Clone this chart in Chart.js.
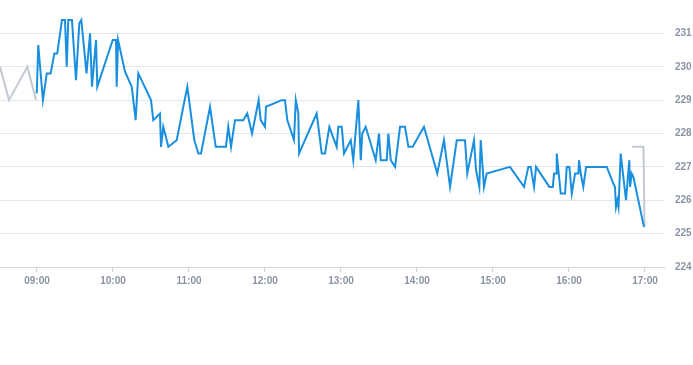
<!DOCTYPE html>
<html>
<head>
<meta charset="utf-8">
<script src="https://cdn.jsdelivr.net/npm/chart.js@4/dist/chart.umd.min.js"></script>
<style>
  html, body { margin: 0; padding: 0; background: #ffffff; }
  #wrap { width: 693px; height: 365px; position: relative; }
</style>
</head>
<body>
<div id="wrap"><canvas id="c"></canvas></div>
<script>
// Times are minutes since midnight
const priceTimes = [
  539.8, 541.0, 544.7, 547.7, 550.8, 553.7, 556.0, 559.7, 562.1, 563.5,
  564.7, 567.6, 570.8, 573.4, 575.0, 579.1, 581.9, 583.4, 586.6, 587.6,
  599.8, 602.4, 602.9, 604.0, 609.5, 614.8, 617.9, 620.0, 630.0, 631.8,
  637.1, 637.9, 639.7, 643.7, 650.3, 655.5, 658.7, 664.2, 667.4, 669.5,
  676.6, 681.1, 689.2, 691.0, 693.2, 696.3, 702.9, 706.0, 709.8, 715.0,
  716.6, 720.0, 720.8, 733.2, 735.8, 737.6, 742.9, 744.3, 746.3, 746.9,
  760.8, 764.8, 767.4, 770.8, 776.6, 777.9, 780.6, 782.4, 787.7, 789.7,
  793.7, 795.6, 796.8, 799.5, 807.4, 810.0, 811.4, 816.1, 817.4, 819.3,
  822.7, 826.6, 830.5, 833.2, 836.6, 845.5, 856.0, 861.3, 866.1, 871.4,
  877.9, 879.7, 885.0, 886.6, 889.2, 890.3, 892.9, 895.0, 913.4, 924.5,
  927.9, 929.8, 932.4, 934.0, 944.5, 947.2, 948.2, 949.8, 950.3, 953.5,
  956.9, 958.2, 960.3, 962.2, 964.8, 967.4, 967.9, 969.3, 971.3, 973.5,
  989.8, 995.0, 996.3, 997.1, 998.2, 999.1, 1000.8, 1005.0, 1007.6, 1008.2,
  1009.5, 1010.8, 1019.2
];
const priceValues = [
  229.2, 230.65, 229.0, 229.8, 229.8, 230.4, 230.4, 231.4, 231.4, 230.0,
  231.4, 231.4, 229.6, 231.3, 231.4, 229.8, 231.0, 229.4, 230.8, 229.4,
  230.8, 230.8, 229.4, 230.8, 229.85, 229.4, 228.4, 229.8, 229.0, 228.4,
  228.6, 227.6, 228.2, 227.6, 227.8, 228.8, 229.4, 227.8, 227.4, 227.4,
  228.8, 227.6, 227.6, 228.2, 227.6, 228.4, 228.4, 228.6, 228.0, 229.0,
  228.4, 228.2, 228.8, 229.0, 229.0, 228.4, 227.8, 229.0, 228.6, 227.4,
  228.6, 227.4, 227.4, 228.2, 227.6, 228.2, 228.2, 227.4, 227.8, 227.2,
  229.0, 227.2, 228.0, 228.2, 227.2, 228.0, 227.2, 227.2, 228.0, 227.2,
  227.0, 228.2, 228.2, 227.6, 227.6, 228.2, 226.8, 227.8, 226.4, 227.8,
  227.8, 226.8, 227.8, 226.9, 226.4, 227.8, 226.4, 226.8, 227.0, 226.4,
  227.0, 227.0, 226.4, 227.0, 226.4, 226.4, 226.8, 226.8, 227.4, 226.2,
  226.2, 227.0, 227.0, 226.2, 226.8, 226.8, 227.2, 226.8, 226.4, 227.0,
  227.0, 226.5, 226.4, 225.8, 226.0, 225.8, 227.4, 226.0, 227.2, 226.4,
  226.8, 226.7, 225.2
];
// Grey reference segments (null = gap)
const refTimes  = [510.8, 517.9, 532.4, 539.2, 775.0, 1009.8, 1018.8, 1019.6];
const refValues = [230.0, 229.0, 230.0, 229.0, null, 227.6, 227.6, 225.2];

const xTickValues = [540, 600, 660, 720, 780, 840, 900, 960, 1020];
const xTickLabels = ['09:00', '10:00', '11:00', '12:00', '13:00', '14:00', '15:00', '16:00', '17:00'];
const yTickValues = [224, 225, 226, 227, 228, 229, 230, 231];

const toPoints = (xs, ys) => xs.map((x, i) => ({ x: x, y: ys[i] }));

const tickFont = { family: "'Liberation Sans', Arial, sans-serif", size: 10, weight: 'bold' };
const tickColor = '#8a93a3';

new Chart(document.getElementById('c'), {
  type: 'line',
  data: {
    datasets: [
      {
        data: toPoints(refTimes, refValues),
        borderColor: '#c3c9d1',
        borderWidth: 2,
        pointRadius: 0,
        tension: 0,
        spanGaps: false,
        order: 2
      },
      {
        data: toPoints(priceTimes, priceValues),
        borderColor: '#1a8fe0',
        borderWidth: 2,
        pointRadius: 0,
        tension: 0,
        order: 1
      }
    ]
  },
  options: {
    responsive: true,
    maintainAspectRatio: false,
    animation: false,
    layout: { padding: { left: 0, right: 0, top: 0, bottom: 75 } },
    plugins: { legend: { display: false }, tooltip: { enabled: false } },
    scales: {
      x: {
        type: 'linear',
        min: 510.8,
        max: 1035,
        afterBuildTicks: (scale) => { scale.ticks = xTickValues.map(v => ({ value: v })); },
        afterFit: (scale) => { scale.paddingLeft = 0; scale.paddingRight = 0; },
        ticks: {
          autoSkip: false,
          maxRotation: 0,
          padding: 3,
          color: tickColor,
          font: tickFont,
          callback: (v) => { const i = xTickValues.indexOf(v); return i >= 0 ? xTickLabels[i] : ''; }
        },
        grid: { drawOnChartArea: false, drawTicks: true, tickLength: 5, color: '#cfd4dc' },
        border: { display: true, color: '#cfd4dc' }
      },
      y: {
        position: 'right',
        min: 224,
        max: 232,
        afterBuildTicks: (scale) => { scale.ticks = yTickValues.map(v => ({ value: v })); },
        afterFit: (scale) => { scale.width = 29; scale.paddingTop = 0; scale.paddingBottom = 0; },
        ticks: {
          padding: 11,
          color: tickColor,
          font: tickFont,
          callback: (v) => String(v)
        },
        grid: { drawTicks: false, color: '#e3e6eb' },
        border: { display: false }
      }
    }
  }
});
</script>
</body>
</html>
